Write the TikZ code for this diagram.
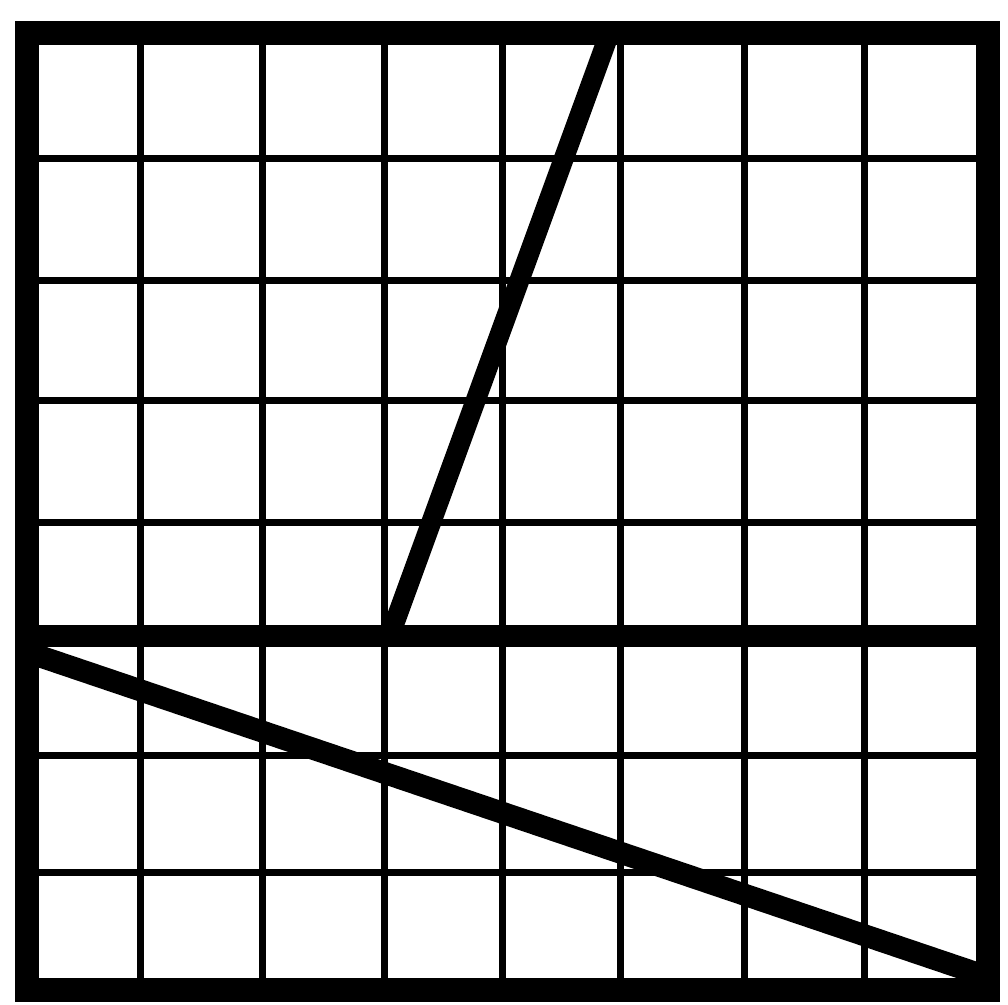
\documentclass[tikz,border=0pt]{standalone}
\begin{document}
\begin{tikzpicture}[x=1pt,y=-1pt,
  gridline/.style={line width=7pt},
  heavy/.style={line width=22pt},
  frame/.style={line width=24pt}]
\useasboundingbox (0,0) rectangle (1008,1004);
\fill[white] (0,0) rectangle (1008,1004);
% thin grid lines
\foreach \x in {140,262,384,502,620,744,864}
  \draw[gridline] (\x,34) -- (\x,990);
\foreach \y in {158,280,400,522,755,872}
  \draw[gridline] (27,\y) -- (988,\y);
% key points
\coordinate (ML) at (27,636);
\coordinate (MR) at (988,636);
\coordinate (S0) at (392,630);
\coordinate (S1) at (607,40);
\coordinate (D0) at (27,652);
\coordinate (D1) at (985,976);
% heavy lines
\draw[heavy] (ML) -- (MR);
\draw[heavy,line width=20pt] (S0) -- (S1);
\draw[heavy] (D0) -- (D1);
% frame
\draw[frame,line join=miter] (27,33) rectangle (988,990);
\end{tikzpicture}
\end{document}
